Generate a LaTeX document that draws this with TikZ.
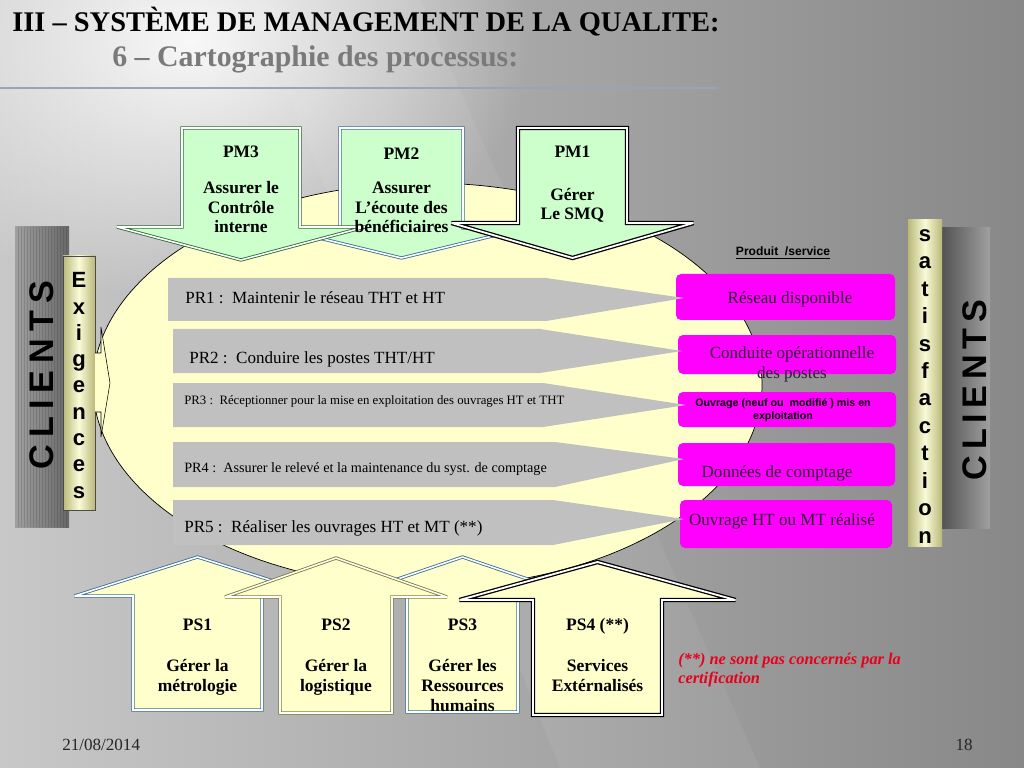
\documentclass[tikz,border=0pt]{standalone}
\usepackage{fontspec}
\setmainfont{Liberation Serif}
\newfontfamily\arial{Liberation Sans}
\usetikzlibrary{fadings}
\tikzfading[name=myglow, inner color=transparent!0, outer color=transparent!100]
\definecolor{ellfill}{HTML}{FFFFCC}
\definecolor{pmfill}{HTML}{CCFFCC}
\definecolor{psfill}{HTML}{FFFFCC}
\definecolor{prgray}{HTML}{C0C0C0}
\definecolor{mag}{HTML}{FF00FF}
\definecolor{pmgreen}{HTML}{2E6B3A}
\definecolor{psblue}{HTML}{3F6F9A}
\definecolor{olivebd}{HTML}{7D7D35}
\definecolor{subgray}{HTML}{7A7A7A}
\definecolor{notered}{HTML}{E8001C}
\definecolor{rulec}{HTML}{9AA5B0}
\definecolor{bgL}{HTML}{C8C8C8}
\definecolor{bgR}{HTML}{888888}
\definecolor{textdark}{HTML}{2A2030}
\definecolor{barL}{HTML}{A0A0A0}
\definecolor{barR}{HTML}{686868}
\definecolor{yelEdge}{HTML}{B9B97A}
\definecolor{yelMid}{HTML}{FAFAD8}
\newcommand\BlockArrow[7]{%
  \draw[#1] ({#2-#3},#4) -- ({#2+#3},#4) -- ({#2+#3},#5) -- ({#2+#6},#5)
    -- (#2,#7) -- ({#2-#6},#5) -- ({#2-#3},#5) -- cycle;}
\tikzset{
  arrowbd/.style={draw=#1, line width=0.6pt, double=white, double distance=1.1pt, miter limit=2},
  pmA/.style={fill=pmfill, arrowbd=#1},
  psA/.style={fill=psfill, arrowbd=#1},
  boldA/.style={draw=black, line width=0.9pt, double=white, double distance=1.3pt, miter limit=2},
  lbl/.style={font=\fontsize{12.3}{14.06}\selectfont\bfseries, text=black, inner sep=0pt, align=center, anchor=base},
  prbar/.style={fill=prgray, draw=none},
  prtext/.style={anchor=base west, inner sep=0pt, text=black},
  magbox/.style={fill=mag, rounded corners=3.5pt, draw=none},
  magtext/.style={text=textdark, inner sep=0pt, align=center, anchor=base, font=\fontsize{12}{14.06}\selectfont},
  vletters/.style={font=\arial\bfseries\fontsize{15.5}{#1}\selectfont, align=center, inner sep=0pt, anchor=base, text=black},
  clients/.style={font=\arial\bfseries\fontsize{24}{28}\selectfont, rotate=90, inner sep=0pt, text=black},
}
\begin{document}
\begin{tikzpicture}[x=0.703125pt,y=-0.703125pt]
\useasboundingbox (0,0) rectangle (1024,768);
% background
\shade[left color=bgL, right color=bgR] (0,0) rectangle (1024,768);
\fill[white, path fading=myglow, fill opacity=0.9] (190,40) ellipse (340 and 260);
\fill[white, opacity=0.06] (250,0) -- (420,0) -- (760,768) -- (560,768) -- cycle;
% title
\node[anchor=base west, inner sep=0pt, font=\fontsize{20}{24}\selectfont\bfseries] (title) at (12,32) {III – SYSTÈME DE MANAGEMENT DE LA QUALITE:};
\node[anchor=base west, inner sep=0pt, text=subgray, font=\fontsize{21}{25}\selectfont\bfseries] (subtitle) at (112,67) {6 – Cartographie des processus:};
\draw[rulec, line width=1.5pt] (0,88) -- (718,88);
% ellipse
\draw[fill=ellfill, line width=0.5pt] (427.5,385) ellipse (334.5 and 202);
% left bars
\shade[left color=barL, right color=barR] (15,227) rectangle (69,527);
\foreach \i in {18,21,...,66} \draw[black, opacity=0.12, line width=0.6pt] (\i,227) -- (\i,527);
\node[clients] (clientsL) at (42,375) {C\kern5pt L\kern5pt I\kern5pt E\kern5pt N\kern5pt T\kern5pt S};
\shade[left color=yelEdge, right color=yelEdge, middle color=yelMid, draw=black!70, line width=0.4pt] (63,256) rectangle (95,510);
\node[vletters=18.46] (exig) at (79,498) {E\\x\\i\\g\\e\\n\\c\\e\\s};
\draw[fill=ellfill, line width=0.4pt] (95,353) -- (101,353) -- (101,327) -- (110,383) -- (101,437) -- (101,412) -- (95,412);
% right bars
\shade[left color=barR!80!black, right color=barL] (942,228) rectangle (990,528);
\node[clients] (clientsR) at (975,390) {C\kern4pt L\kern4pt I\kern4pt E\kern4pt N\kern4pt T\kern4pt S};
\shade[left color=yelEdge, right color=yelEdge, middle color=yelMid] (908,220) rectangle (942,546);
\node[vletters=19.27] (satis) at (925,543) {s\\a\\t\\i\\s\\f\\a\\c\\t\\i\\o\\n};
% top arrows PM
\BlockArrow{pmA=psblue}{401.5}{61.5}{128}{228}{124}{258}
\BlockArrow{pmA=pmgreen}{241}{59}{128}{227}{124}{260}
\BlockArrow{fill=pmfill, boldA}{572.5}{54.5}{128}{223}{121}{258}
\node[lbl] (pm3) at (241,158) {PM3};
\node[lbl] (pm3b) at (241,233) {Assurer le\\Contrôle\\interne};
\node[lbl] (pm2) at (401.5,160) {PM2};
\node[lbl] (pm2b) at (401.5,233) {Assurer\\L’écoute des\\bénéficiaires};
\node[lbl] (pm1) at (572.5,158) {PM1};
\node[lbl] (pm1b) at (572.5,220) {Gérer\\Le SMQ};
% magenta boxes
\fill[magbox] (676,274) rectangle (895,320);
\fill[magbox] (678,335) rectangle (896,374);
\fill[magbox] (678,392) rectangle (896,427);
\fill[magbox] (678,443) rectangle (895,486);
\fill[magbox] (680,500) rectangle (892,548);
\node[magtext] (o1) at (790,303) {Réseau disponible};
\node[magtext] (o2) at (792,378) {Conduite opérationnelle\\des postes};
\node[magtext, font=\arial\bfseries\fontsize{7.5}{9.14}\selectfont, text=black] (o3) at (783,419) {Ouvrage (neuf ou\ \ modifié ) mis en\\exploitation};
\node[magtext] (o4) at (777,477) {Données de comptage};
\node[magtext] (o5) at (782,525) {Ouvrage HT ou MT réalisé};
\node[anchor=base, inner sep=0pt, font=\arial\bfseries\fontsize{8.5}{10}\selectfont] (prod) at (783,256) {\underline{Produit\ \ /service}};
% PR bars
\fill[prbar] (168,278) -- (546,278) -- (684,298) -- (546,321) -- (168,321) -- cycle;
\fill[prbar] (173,329) -- (540,329) -- (682,351) -- (540,373) -- (173,373) -- cycle;
\fill[prbar] (173,383) -- (543,383) -- (686,405) -- (543,427) -- (173,427) -- cycle;
\fill[prbar] (173,442) -- (555,442) -- (684,459) -- (555,487) -- (173,487) -- cycle;
\fill[prbar] (173,500) -- (553,500) -- (684,519) -- (553,545) -- (173,545) -- cycle;
\node[prtext, font=\fontsize{12}{14}\selectfont] (pr1) at (185,304) {PR1 :\ \ Maintenir le réseau THT et HT};
\node[prtext, font=\fontsize{12}{14}\selectfont] (pr2) at (189,363) {PR2 :\ \ Conduire les postes THT/HT};
\node[prtext, font=\fontsize{9}{11}\selectfont] (pr3) at (184,404) {PR3 :\ \ Réceptionner pour la mise en exploitation des ouvrages HT et THT};
\node[prtext, font=\fontsize{10}{12}\selectfont] (pr4) at (184,472) {PR4 :\ \ Assurer le relevé et la maintenance du syst. de comptage};
\node[prtext, font=\fontsize{12}{14}\selectfont] (pr5) at (184,532) {PR5 :\ \ Réaliser les ouvrages HT et MT (**)};
% bottom arrows PS
\BlockArrow{psA=psblue}{197.5}{64.5}{710}{596}{123}{557}
\BlockArrow{psA=psblue}{462.5}{55.5}{712}{596}{115}{557}
\BlockArrow{psA=olivebd}{336}{56}{713}{597}{111}{558}
\BlockArrow{fill=psfill, boldA}{597.5}{64.5}{715}{600}{138}{562}
\node[lbl] (ps1) at (197.5,630) {PS1};
\node[lbl] (ps1b) at (197.5,691) {Gérer la\\métrologie};
\node[lbl] (ps2) at (336,630) {PS2};
\node[lbl] (ps2b) at (336,691) {Gérer la\\logistique};
\node[lbl] (ps3) at (462.5,630) {PS3};
\node[lbl] (ps3b) at (462.5,711) {Gérer les\\Ressources\\humains};
\node[lbl] (ps4) at (597.5,630) {PS4 (**)};
\node[lbl] (ps4b) at (597.5,691) {Services\\Extérnalisés};
% note
\node[anchor=base west, inner sep=0pt, align=left, text=notered, font=\fontsize{11.5}{12.66}\selectfont\bfseries\itshape] (note) at (678,683) {(**) ne sont pas concernés par la\\certification};
% footer
\node[anchor=base west, inner sep=0pt, text=black!85, font=\fontsize{12}{14}\selectfont] (date) at (62,750) {21/08/2014};
\node[anchor=base east, inner sep=0pt, text=black!85, font=\fontsize{12}{14}\selectfont] (pnum) at (973,750) {18};
\end{tikzpicture}
\end{document}
